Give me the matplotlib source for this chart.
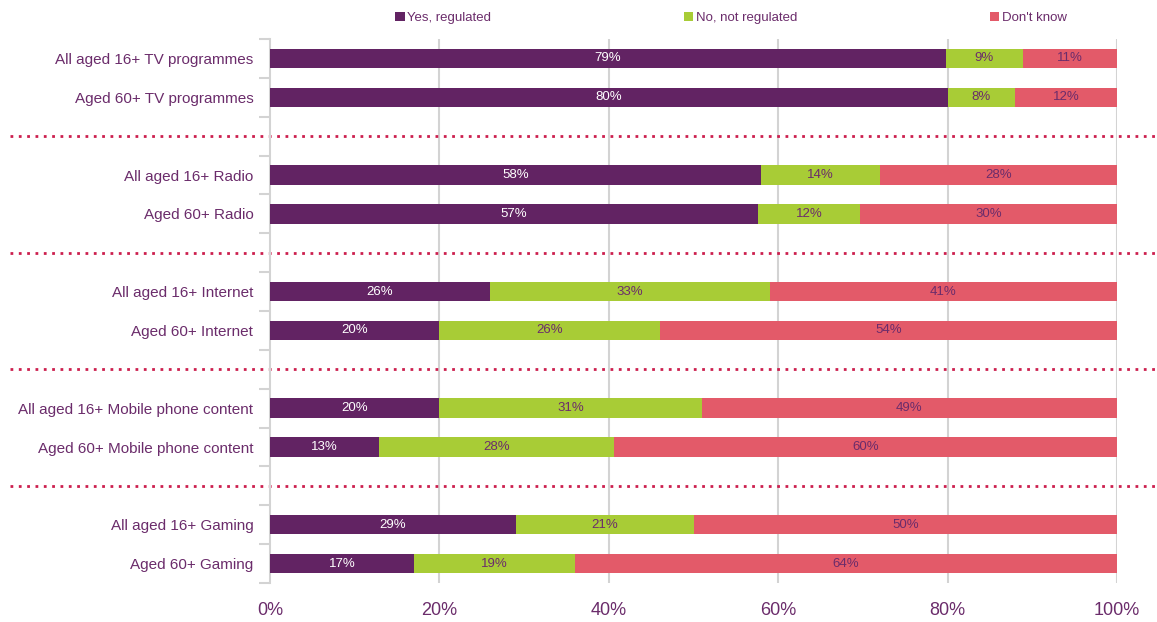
import matplotlib
matplotlib.use("Agg")
import matplotlib.pyplot as plt
import numpy as np

categories = [
    "All aged 16+ TV programmes", "Aged 60+ TV programmes",
    "All aged 16+ Radio", "Aged 60+ Radio",
    "All aged 16+ Internet", "Aged 60+ Internet",
    "All aged 16+ Mobile phone content", "Aged 60+ Mobile phone content",
    "All aged 16+ Gaming", "Aged 60+ Gaming",
]
yes_regulated = [79, 80, 58, 57, 26, 20, 20, 13, 29, 17]
not_regulated = [9, 8, 14, 12, 33, 26, 31, 28, 21, 19]
dont_know = [11, 12, 28, 30, 41, 54, 49, 60, 50, 64]
series_names = ["Yes, regulated", "No, not regulated", "Don't know"]
x_ticks = [0, 20, 40, 60, 80, 100]

colors = ["#622363", "#a8cc36", "#e35a69"]
text_col = "#6b2c6b"
label_cols = ["white", text_col, text_col]
grid_col = "#d3d3d3"

plt.rcParams['font.family'] = ['Liberation Sans', 'DejaVu Sans']

fig = plt.figure(figsize=(11.57, 6.22), dpi=100)
ax = fig.add_axes([270/1157, 1-583/622, 847/1157, 544/622])

positions = []
for g in range(5):
    positions += [g*3, g*3 + 1]
positions = np.array(positions, dtype=float)

data = np.array([yes_regulated, not_regulated, dont_know], dtype=float)
totals = data.sum(axis=0)
shares = data / totals * 100

left = np.zeros(len(categories))
for i, name in enumerate(series_names):
    ax.barh(positions, shares[i], left=left, height=0.5, color=colors[i],
            label=name, zorder=3)
    for y, l, w, v in zip(positions, left, shares[i], data[i]):
        ax.text(l + w/2, y, f"{int(v)}%", ha="center", va="center",
                color=label_cols[i], fontsize=9.5, zorder=4)
    left += shares[i]

ax.set_xlim(0, 100)
ax.set_ylim(13.5, -0.5)
ax.set_yticks(positions)
ax.set_yticklabels(categories, fontsize=11, color=text_col)
ax.tick_params(axis="y", length=0, pad=12)
ax.set_yticks(np.arange(-0.5, 14, 1.0), minor=True)
ax.tick_params(axis="y", which="minor", length=8, width=1.5, color=grid_col,
               direction="out")

ax.set_xticks(x_ticks)
ax.set_xticklabels([f"{t}%" for t in x_ticks], fontsize=13, color=text_col)
ax.tick_params(axis="x", length=0, pad=14)

for t in x_ticks[1:]:
    ax.axvline(t, color=grid_col, lw=1.5, zorder=1)

for s in ["top", "right", "bottom"]:
    ax.spines[s].set_visible(False)
ax.spines["left"].set_color(grid_col)
ax.spines["left"].set_linewidth(1.5)

for yy in [2, 5, 8, 11]:
    ax.plot([-0.307, 1.047], [yy, yy], transform=ax.get_yaxis_transform(),
            color="#cc1f4e", lw=2, ls=(0, (1, 2)), clip_on=False, zorder=2)

leg = ax.legend(loc="center", bbox_to_anchor=(731/1157, 1-18/622), bbox_transform=fig.transFigure,
                ncol=3, frameon=False, prop={'size': 9.5}, handlelength=0.7, handleheight=0.7,
                handletextpad=0.2, columnspacing=14.6)
for txt in leg.get_texts():
    txt.set_color(text_col)

fig.savefig("out.png", dpi=100)
